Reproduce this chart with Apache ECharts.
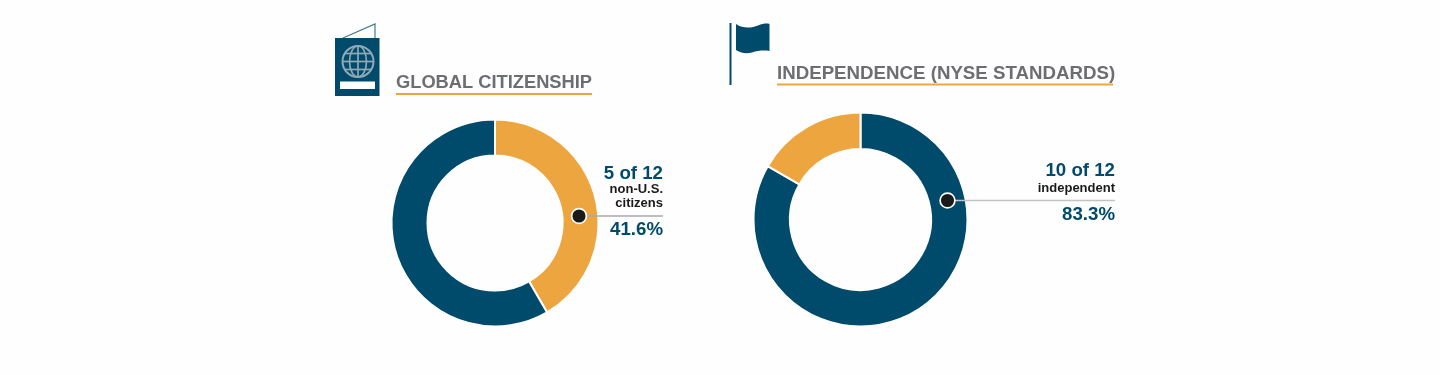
<!DOCTYPE html>
<html><head><meta charset="utf-8">
<style>html,body{margin:0;padding:0;background:#fefefe}#c{width:1440px;height:375px}</style>
<script src="https://cdn.jsdelivr.net/npm/echarts@6/dist/echarts.min.js"></script>
</head><body><div id="c"></div>
<script>
const citizenshipNames = ['Non-U.S. citizens', 'U.S. citizens'];
const citizenshipValues = [41.6, 58.4];
const independenceNames = ['Independent', 'Not independent'];
const independenceValues = [83.3, 16.7];
const titles = ['GLOBAL CITIZENSHIP', 'INDEPENDENCE (NYSE STANDARDS)'];
const citizenshipLabels = ['5 of 12', 'non-U.S.', 'citizens', '41.6%'];
const independenceLabels = ['10 of 12', 'independent', '83.3%'];

const NAVY = '#004B6B', ORANGE = '#EDA63F', GRAY = '#6D6E71';
const FONT = '"Liberation Sans", Arial, sans-serif';

echarts.graphic.registerShape('flagIcon', echarts.graphic.extendShape({
  shape: {},
  buildPath(ctx) {
    ctx.moveTo(736, 24);
    ctx.bezierCurveTo(743, 29, 752, 28, 758, 25.5);
    ctx.bezierCurveTo(763, 23.5, 767, 23, 769.5, 24);
    ctx.lineTo(769.5, 51);
    ctx.bezierCurveTo(764, 50, 758, 50.5, 752, 52.5);
    ctx.bezierCurveTo(746, 54, 740, 53, 736, 50);
    ctx.closePath();
  }
}));

const chart = echarts.init(document.getElementById('c'), null, {renderer: 'canvas'});

function toData(names, values, colors) {
  return names.map((n, i) => ({name: n, value: values[i], itemStyle: {color: colors[i]}}));
}
function pie(center, radius, data) {
  return {type: 'pie', center, radius, startAngle: 90, clockwise: true, silent: true,
    label: {show: false}, labelLine: {show: false}, animation: false,
    itemStyle: {borderColor: '#fff', borderWidth: 2}, data};
}
function txt(x, y, text, size, color, align) {
  return {type: 'text', z: 10, x, y, style: {text, fontFamily: FONT, fontWeight: 'bold', fontSize: size,
    fill: color, align: align || 'right', verticalAlign: 'middle'}};
}
function rule(x1, x2, y, color, w) {
  return {type: 'line', z: 8, shape: {x1, y1: y, x2, y2: y}, style: {stroke: color, lineWidth: w}};
}
function dot(cx, cy) {
  return {type: 'circle', z: 9, shape: {cx, cy, r: 7.4}, style: {fill: '#1A1A1A', stroke: '#fff', lineWidth: 1.7}};
}

const GLOBE = '#8FA9B5';
const globeLines = [];
[-8, 0, 8].forEach(d => {
  const h = Math.sqrt(15.5 * 15.5 - d * d);
  globeLines.push({type: 'line', shape: {x1: 358 - h, y1: 61.5 + d, x2: 358 + h, y2: 61.5 + d}, style: {stroke: GLOBE, lineWidth: 1.7}});
});
globeLines.push({type: 'line', shape: {x1: 358, y1: 46, x2: 358, y2: 77}, style: {stroke: GLOBE, lineWidth: 1.7}});
globeLines.push({type: 'ellipse', shape: {cx: 358, cy: 61.5, rx: 8.5, ry: 15.5}, style: {fill: 'none', stroke: GLOBE, lineWidth: 1.7}});

const graphics = [
  // passport icon
  {type: 'polyline', z: 5, shape: {points: [[343, 38], [375, 24], [375, 38]]}, style: {fill: 'none', stroke: '#3F7B93', lineWidth: 1.2}},
  {type: 'rect', z: 5, shape: {x: 335, y: 38, width: 44.5, height: 58}, style: {fill: NAVY}},
  {type: 'circle', z: 6, shape: {cx: 358, cy: 61.5, r: 15.5}, style: {fill: 'none', stroke: GLOBE, lineWidth: 2}},
  ...globeLines.map(g => Object.assign({z: 6}, g)),
  {type: 'rect', z: 6, shape: {x: 340, y: 81.5, width: 35, height: 7.5}, style: {fill: '#fff'}},
  // flag icon
  {type: 'rect', z: 5, shape: {x: 729.5, y: 23, width: 2, height: 62}, style: {fill: NAVY}},
  {type: 'flagIcon', z: 5, shape: {}, style: {fill: NAVY}},
  // titles
  txt(396, 83, titles[0], 18.3, GRAY, 'left'),
  rule(396, 592, 94, ORANGE, 2),
  txt(777, 74, titles[1], 18.7, GRAY, 'left'),
  rule(777, 1113, 84.5, ORANGE, 2),
  // left callout
  rule(585, 663, 216, '#A7A9AC', 1.5),
  dot(579, 216),
  txt(663, 174, citizenshipLabels[0], 18.7, NAVY),
  txt(663, 189, citizenshipLabels[1], 13, '#1A1A1A'),
  txt(663, 203, citizenshipLabels[2], 13, '#1A1A1A'),
  txt(663, 229.5, citizenshipLabels[3], 18.7, NAVY),
  // right callout
  rule(953, 1115, 200.5, '#C2C3C5', 1.5),
  dot(947.5, 200.5),
  txt(1115, 171, independenceLabels[0], 18.7, NAVY),
  txt(1115, 188, independenceLabels[1], 13, '#1A1A1A'),
  txt(1115, 214.5, independenceLabels[2], 18.7, NAVY)
];

chart.setOption({
  backgroundColor: '#fefefe',
  animation: false,
  tooltip: {show: false},
  series: [
    pie([495, 223], [67.5, 103.5], toData(citizenshipNames, citizenshipValues, [ORANGE, NAVY])),
    pie([860.5, 219.5], [70.5, 107], toData(independenceNames, independenceValues, [NAVY, ORANGE]))
  ],
  graphic: {elements: graphics}
});
</script></body></html>
